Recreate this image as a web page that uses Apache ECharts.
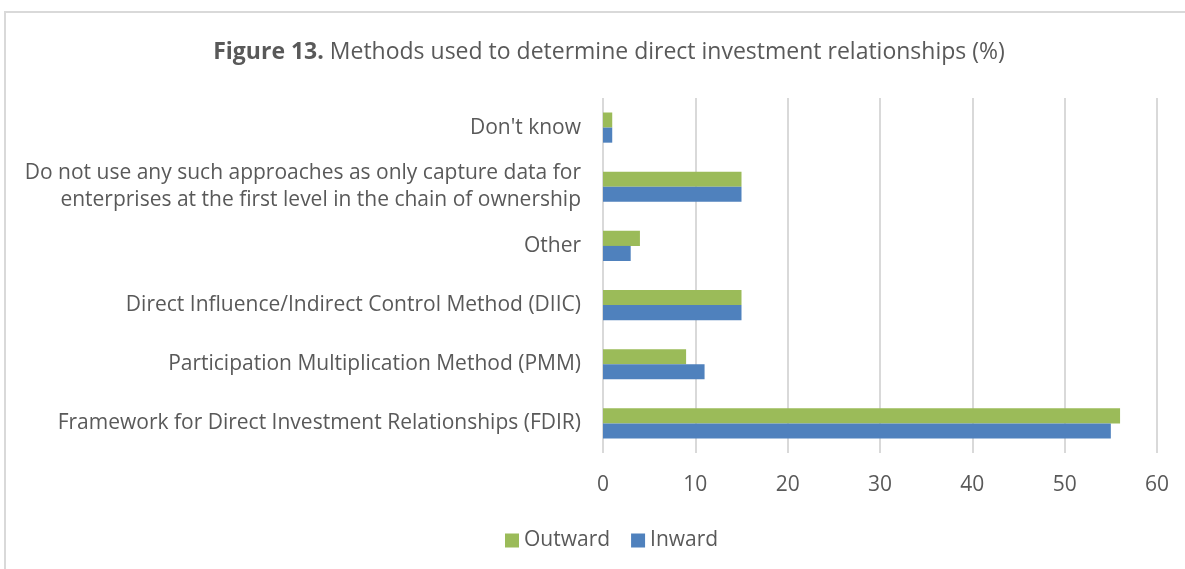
<!DOCTYPE html>
<html>
<head>
<meta charset="utf-8">
<script src="https://cdn.jsdelivr.net/npm/echarts@6/dist/echarts.min.js"></script>
<style>
  html, body { margin: 0; padding: 0; background: #fff; }
  #chart { width: 1185px; height: 569px; }
</style>
</head>
<body>
<div id="chart"></div>
<script>
// categories, bottom to top as the y axis runs
var categories = [
    'Framework for Direct Investment Relationships (FDIR)',
    'Participation Multiplication Method (PMM)',
    'Direct Influence/Indirect Control Method (DIIC)',
    'Other',
    'Do not use any such approaches as only capture data for\nenterprises at the first level in the chain of ownership',
    "Don't know"
];
var outward = [56, 9, 15, 4, 15, 1];
var inward = [55, 11, 15, 3, 15, 1];
var xTicks = [0, 10, 20, 30, 40, 50, 60];

var font = '"Open Sans", sans-serif';
var textColor = '#595959';

var chart = echarts.init(document.getElementById('chart'));
chart.setOption({
    backgroundColor: '#fff',
    animation: false,
    textStyle: { fontFamily: font },
    title: {
        text: '{b|Figure 13.} Methods used to determine direct investment relationships (%)',
        left: 604,
        top: 36,
        textAlign: 'center',
        textStyle: {
            fontFamily: font,
            fontSize: 23,
            fontWeight: 'normal',
            color: textColor,
            rich: {
                b: { fontFamily: font, fontSize: 23, fontWeight: 'bold', color: textColor }
            }
        }
    },
    graphic: [{
        type: 'rect',
        shape: { x: 5, y: 12, width: 1190, height: 570 },
        style: { fill: 'none', stroke: '#d9d9d9', lineWidth: 2 },
        silent: true
    }],
    legend: {
        bottom: 13,
        left: 500,
        itemWidth: 14,
        itemHeight: 14,
        itemGap: 21,
        icon: 'rect',
        textStyle: { fontFamily: font, fontSize: 21, color: textColor },
        data: ['Outward', 'Inward']
    },
    grid: {
        left: 603,
        right: 28,
        top: 98,
        bottom: 116,
        containLabel: false
    },
    xAxis: {
        type: 'value',
        min: xTicks[0],
        max: xTicks[xTicks.length - 1],
        interval: 10,
        axisLine: { show: false },
        axisTick: { show: false },
        axisLabel: { fontFamily: font, fontSize: 21, color: textColor, margin: 22 },
        splitLine: { lineStyle: { color: '#d9d9d9', width: 2 } }
    },
    yAxis: {
        type: 'category',
        data: categories,
        axisLine: { show: false },
        axisTick: { show: false },
        axisLabel: {
            fontFamily: font,
            fontSize: 21,
            color: textColor,
            margin: 22,
            lineHeight: 27,
            align: 'right'
        }
    },
    series: [{
        name: 'Outward',
        type: 'bar',
        data: outward,
        barGap: '0%',
        barCategoryGap: '49%',
        itemStyle: { color: '#9BBB59' }
    }, {
        name: 'Inward',
        type: 'bar',
        data: inward,
        itemStyle: { color: '#4F81BD' }
    }]
});
</script>
</body>
</html>
